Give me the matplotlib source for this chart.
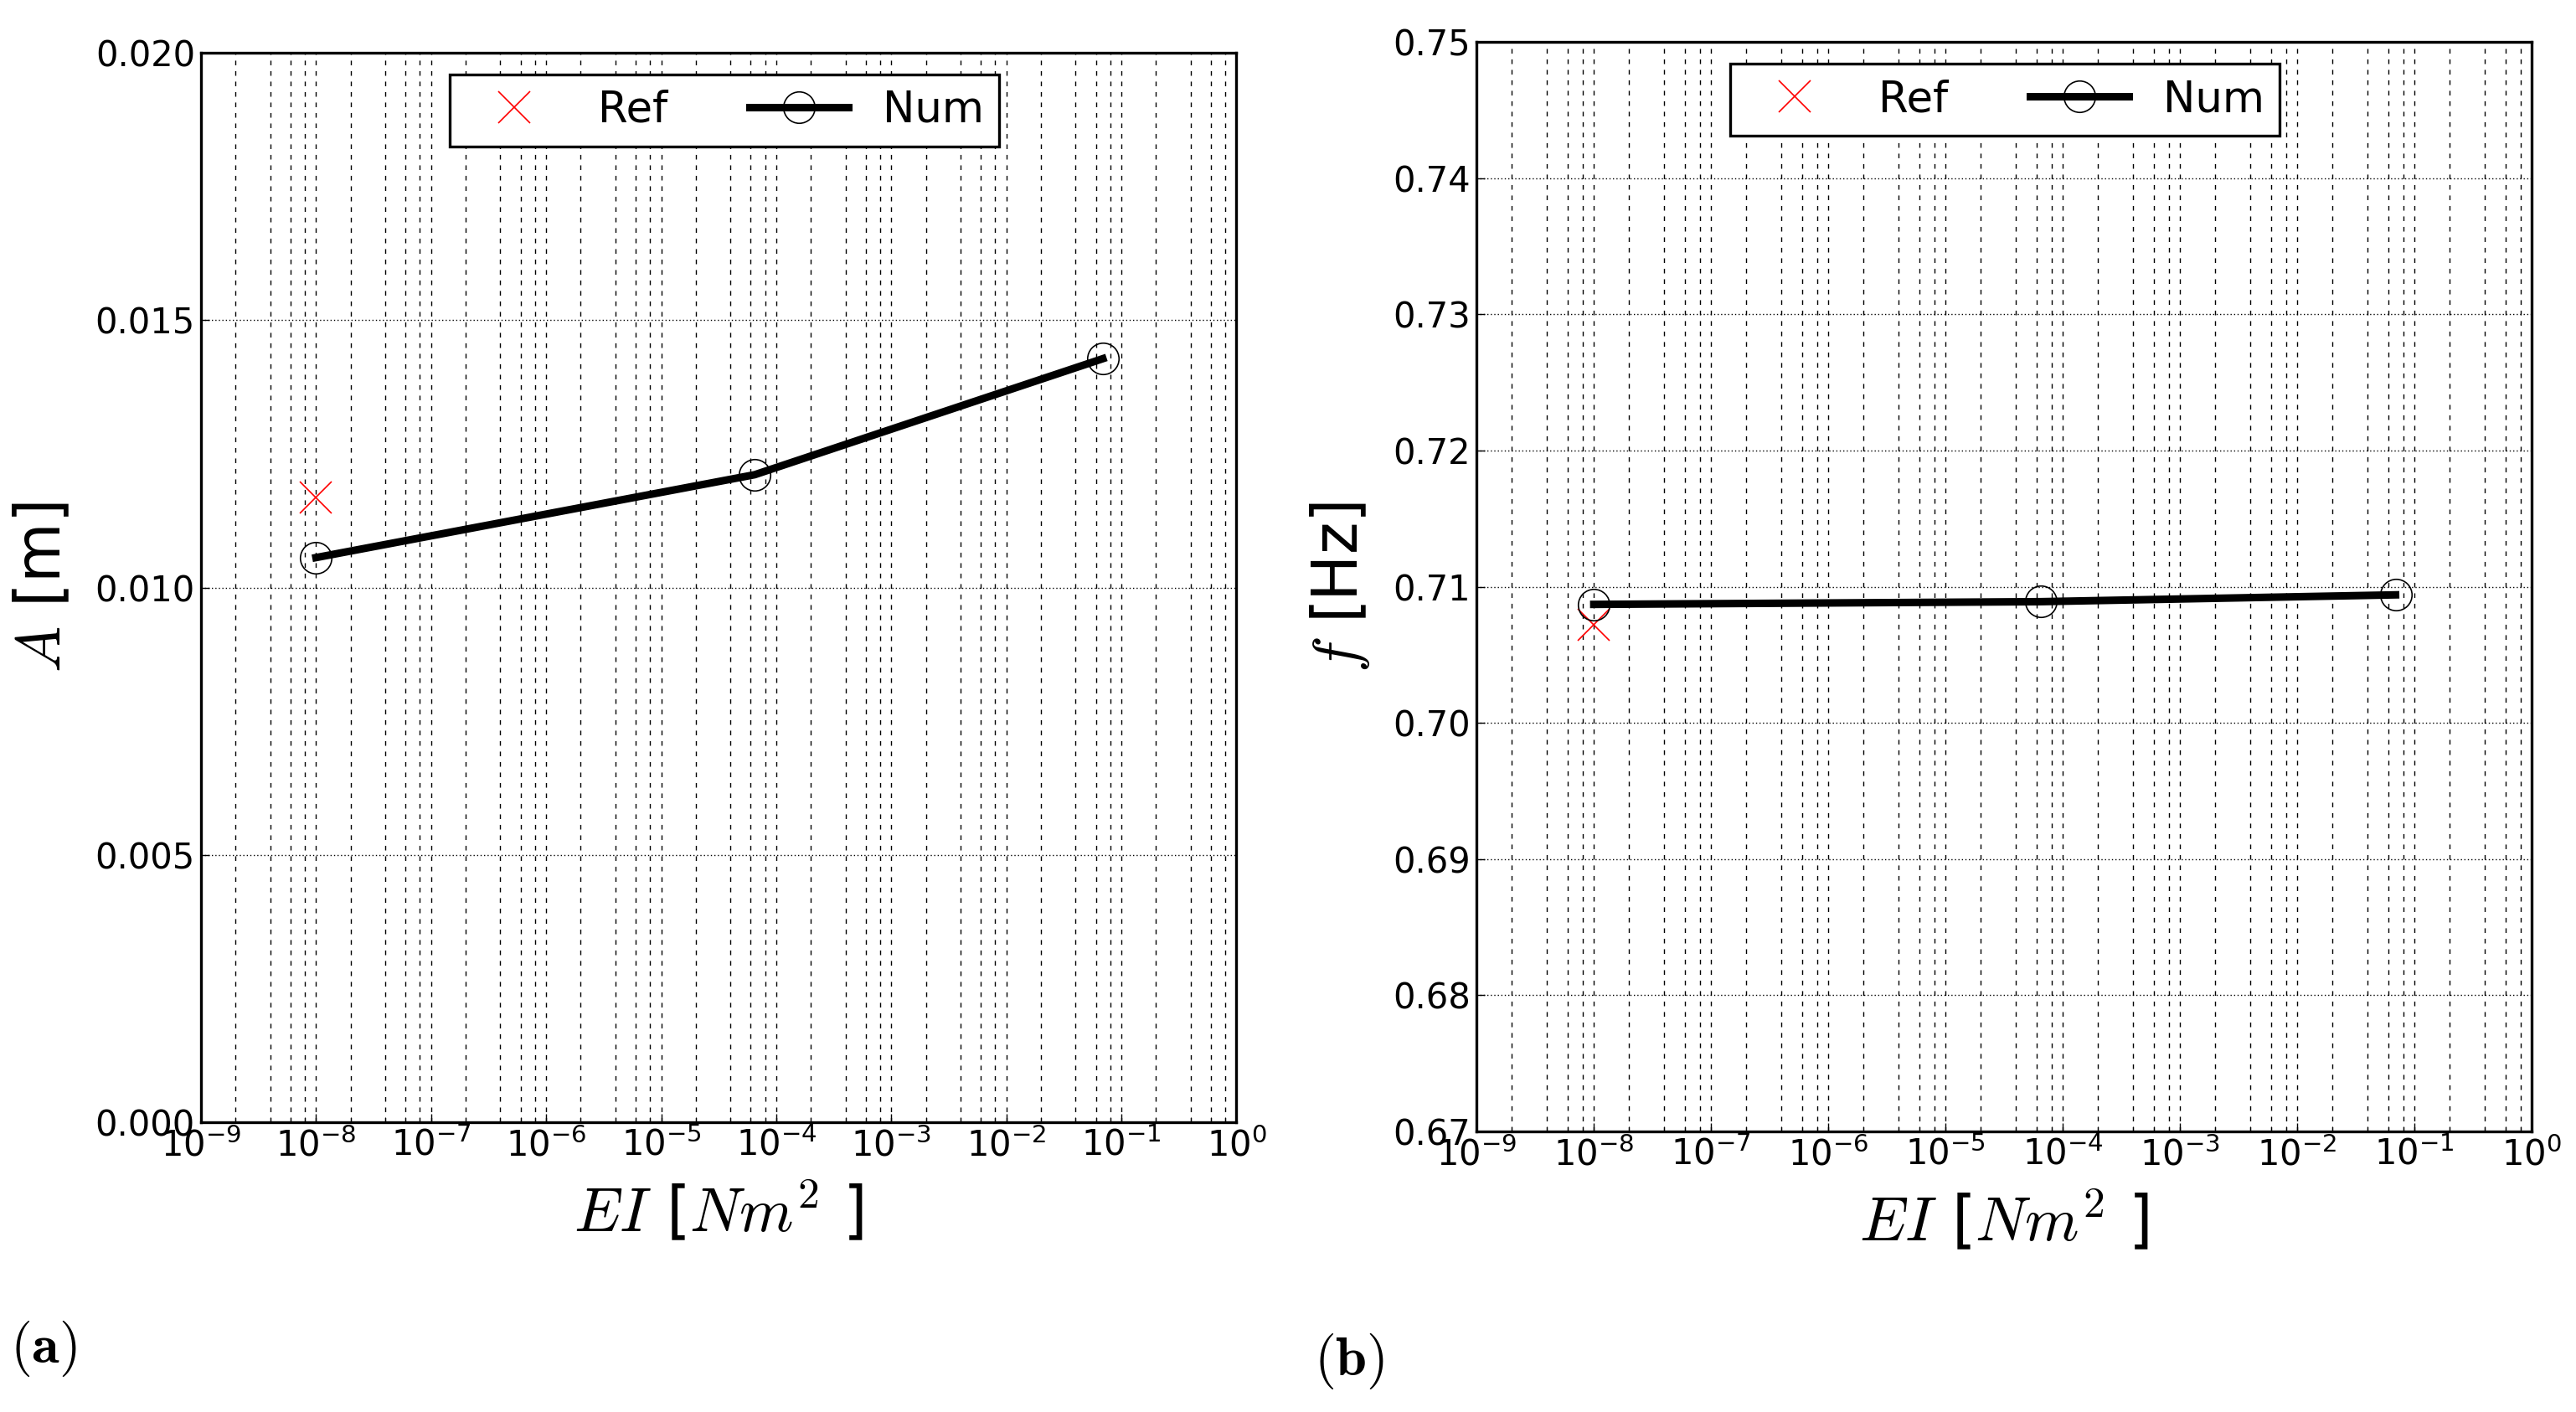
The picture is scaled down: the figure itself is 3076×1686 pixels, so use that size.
import matplotlib
matplotlib.use('Agg')
import matplotlib.pyplot as plt
from matplotlib.ticker import LogLocator, FormatStrFormatter, MultipleLocator

# bending stiffness EI [Nm^2] of the computed cases
EI_num = [1e-8, 6.5e-5, 6.9e-2]
EI_ref = [1e-8]

# (a) amplitude A [m]
A_num = [0.01056, 0.01211, 0.01428]
A_ref = [0.01169]

# (b) frequency f [Hz]
f_num = [0.7087, 0.7089, 0.7094]
f_ref = [0.7072]

plt.rcParams['font.family'] = ['DejaVu Sans']
plt.rcParams['mathtext.fontset'] = 'dejavusans'

fig = plt.figure(figsize=(30.76, 16.86), dpi=100)
ax_a = fig.add_axes([0.078, 0.2052, 0.402, 0.7574])
ax_b = fig.add_axes([0.5732, 0.1987, 0.4096, 0.7716])


def draw_panel(ax, y_num, y_ref, ylim, ystep, yfmt, ylabel):
    ax.plot(EI_ref, y_ref, ls='none', marker='x', ms=27, mec='red', mew=1.2, label='Ref')
    ax.plot(EI_num, y_num, 'k-', lw=6.5, marker='o', ms=27, mfc='none', mec='k', mew=1.2, label='Num')

    ax.set_xscale('log')
    ax.set_xlim(1e-9, 1e0)
    ax.set_ylim(*ylim)
    ax.xaxis.set_major_locator(LogLocator(base=10, numticks=20))
    ax.xaxis.set_minor_locator(LogLocator(base=10, subs=(2, 4, 6, 8), numticks=40))
    ax.yaxis.set_major_locator(MultipleLocator(ystep))
    ax.yaxis.set_major_formatter(FormatStrFormatter(yfmt))

    # vertical grid dashed (major + minor), horizontal grid dotted
    ax.grid(True, axis='x', which='both', color='k', lw=1.0, ls=(0, (4, 5)))
    ax.grid(True, axis='y', which='major', color='k', lw=1.0, ls=(0, (1, 2)))
    ax.set_axisbelow(True)

    ax.tick_params(axis='both', which='major', labelsize=30, direction='in', length=7, width=1, pad=5)
    ax.tick_params(axis='both', which='minor', direction='in', length=4, width=0.8)
    for sp in ax.spines.values():
        sp.set_linewidth(2.4)

    ax.set_xlabel(r'$EI$ [$Nm^2$ ]', fontsize=53, math_fontfamily='cm', labelpad=14)
    ax.set_ylabel(ylabel, fontsize=53, math_fontfamily='cm', labelpad=18)

    leg = ax.legend(loc='upper left', bbox_to_anchor=(0.240, 0.980), borderaxespad=0,
                    ncol=2, fontsize=37, numpoints=1, handlelength=2.3, handletextpad=0.8,
                    columnspacing=1.9, borderpad=0.35, fancybox=False, framealpha=1,
                    edgecolor='k')
    leg.get_frame().set_linewidth(2.4)


draw_panel(ax_a, A_num, A_ref, (0.0, 0.020), 0.005, '%.3f', r'$A$ [m]')
draw_panel(ax_b, f_num, f_ref, (0.67, 0.75), 0.01, '%.2f', r'$f$ [Hz]')

# panel tags
fig.text(0.004, 0.045, r'$(\mathbf{a})$', fontsize=48, math_fontfamily='cm', va='center', ha='left')
fig.text(0.510, 0.036, r'$(\mathbf{b})$', fontsize=48, math_fontfamily='cm', va='center', ha='left')

fig.savefig('out.png', dpi=100)
